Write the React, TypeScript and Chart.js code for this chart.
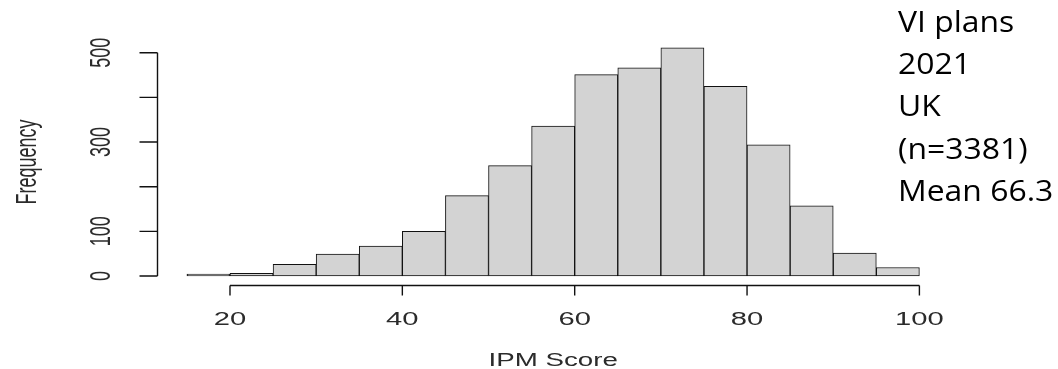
import React, { useEffect, useRef } from "react";
import { Chart, registerables } from "chart.js";

Chart.register(...registerables);

// ---- data ----
const BIN_LEFT = [15, 20, 25, 30, 35, 40, 45, 50, 55, 60, 65, 70, 75, 80, 85, 90, 95];
const BIN_WIDTH = 5;
const FREQUENCY = [2, 6, 26, 49, 67, 100, 180, 247, 336, 451, 466, 511, 425, 294, 157, 51, 19];
const X_TICKS = [20, 40, 60, 80, 100];
const Y_TICKS = [0, 100, 200, 300, 400, 500];
const Y_TICK_LABELS = ["0", "100", "", "300", "", "500"];
const X_TITLE = "IPM Score";
const Y_TITLE = "Frequency";
const NOTE_LINES = ["VI plans", "2021", "UK", "(n=3381)", "Mean 66.3"];

const W = 1058;
const H = 369;

const rFont = '18px "Liberation Sans", Arial, sans-serif';
const STRETCH = 1.62;
const R_TEXT = "#2b2b2b";

const rAxesPlugin = {
  id: "rAxes",
  afterDraw(chart: any) {
    const { ctx, chartArea } = chart;
    const xs = chart.scales.x;
    const ys = chart.scales.y;
    ctx.save();
    ctx.strokeStyle = "#111";
    ctx.lineWidth = 1.4;

    // y axis
    const ax = Math.round(chartArea.left) - 0.5;
    const y0 = ys.getPixelForValue(Y_TICKS[0]);
    const y1 = ys.getPixelForValue(Y_TICKS[Y_TICKS.length - 1]);
    ctx.beginPath();
    ctx.moveTo(ax, y0);
    ctx.lineTo(ax, y1);
    Y_TICKS.forEach((t) => {
      const py = ys.getPixelForValue(t);
      ctx.moveTo(ax, py);
      ctx.lineTo(ax - 18, py);
    });
    ctx.stroke();

    // x axis
    const ay = Math.round(chartArea.bottom) + 0.5;
    const x0 = xs.getPixelForValue(X_TICKS[0]);
    const x1 = xs.getPixelForValue(X_TICKS[X_TICKS.length - 1]);
    ctx.beginPath();
    ctx.moveTo(x0, ay);
    ctx.lineTo(x1, ay);
    X_TICKS.forEach((t) => {
      const px = xs.getPixelForValue(t);
      ctx.moveTo(px, ay);
      ctx.lineTo(px, ay + 10);
    });
    ctx.stroke();

    // tick labels
    ctx.fillStyle = R_TEXT;
    ctx.font = rFont;
    ctx.textAlign = "center";
    ctx.textBaseline = "alphabetic";
    X_TICKS.forEach((t) => {
      const px = xs.getPixelForValue(t);
      ctx.save();
      ctx.translate(px, ay + 39);
      ctx.scale(STRETCH, 1);
      ctx.fillText(String(t), 0, 0);
      ctx.restore();
    });
    Y_TICKS.forEach((t, i) => {
      const label = Y_TICK_LABELS[i];
      if (!label) return;
      const py = ys.getPixelForValue(t);
      ctx.save();
      ctx.translate(110, py);
      ctx.scale(STRETCH, 1);
      ctx.rotate(-Math.PI / 2);
      ctx.fillText(label, 0, 0);
      ctx.restore();
    });

    // axis titles
    ctx.save();
    ctx.translate((chartArea.left + chartArea.right) / 2, 366);
    ctx.scale(STRETCH * 0.95, 1);
    ctx.fillText(X_TITLE, 0, 0);
    ctx.restore();

    ctx.save();
    ctx.translate(35.5, (chartArea.top + chartArea.bottom) / 2);
    ctx.scale(STRETCH, 1);
    ctx.rotate(-Math.PI / 2);
    ctx.fillText(Y_TITLE, 0, 0);
    ctx.restore();

    // note on the right
    ctx.fillStyle = "#000";
    ctx.textAlign = "left";
    ctx.font = '29px "Open Sans", "Noto Sans", sans-serif';
    NOTE_LINES.forEach((line, i) => {
      ctx.save();
      ctx.translate(898, 32 + i * 42.2);
      ctx.scale(1.1, 1);
      ctx.fillText(line, 0, 0);
      ctx.restore();
    });
    ctx.restore();
  },
};

export default function App() {
  const ref = useRef<HTMLCanvasElement | null>(null);
  useEffect(() => {
    if (!ref.current) return;
    const lo = BIN_LEFT[0];
    const hi = BIN_LEFT[BIN_LEFT.length - 1] + BIN_WIDTH;
    const xPad = (hi - lo) * 0.04;
    const yMax = Math.max(...FREQUENCY);
    const yPad = yMax * 0.04;
    const chart = new Chart(ref.current, {
      type: "bar",
      data: {
        datasets: [
          {
            data: BIN_LEFT.map((l, i) => ({ x: l + BIN_WIDTH / 2, y: FREQUENCY[i] })),
            backgroundColor: "#d3d3d3",
            borderColor: "#111",
            borderWidth: 1,
            borderSkipped: false,
            barPercentage: 1,
            categoryPercentage: 1,
            minBarLength: 2,
          } as any,
        ],
      },
      options: {
        animation: false,
        responsive: true,
        maintainAspectRatio: false,
        layout: { padding: { left: 157.6, right: 109.3, top: 38.7, bottom: 83.9 } },
        plugins: { legend: { display: false }, tooltip: { enabled: false }, title: { display: false } },
        scales: {
          x: {
            type: "linear",
            display: false,
            offset: false,
            grid: { offset: false },
            min: lo - xPad,
            max: hi + xPad,
            afterBuildTicks: (s: any) => {
              s.ticks = X_TICKS.map((v) => ({ value: v }));
            },
          },
          y: {
            type: "linear",
            display: false,
            min: -yPad,
            max: yMax + yPad,
          },
        },
      },
      plugins: [rAxesPlugin],
    });
    return () => chart.destroy();
  }, []);
  return (
    <div style={{ position: "absolute", left: 0, top: 0, width: W, height: H, background: "#fff" }}>
      <canvas ref={ref} />
    </div>
  );
}
